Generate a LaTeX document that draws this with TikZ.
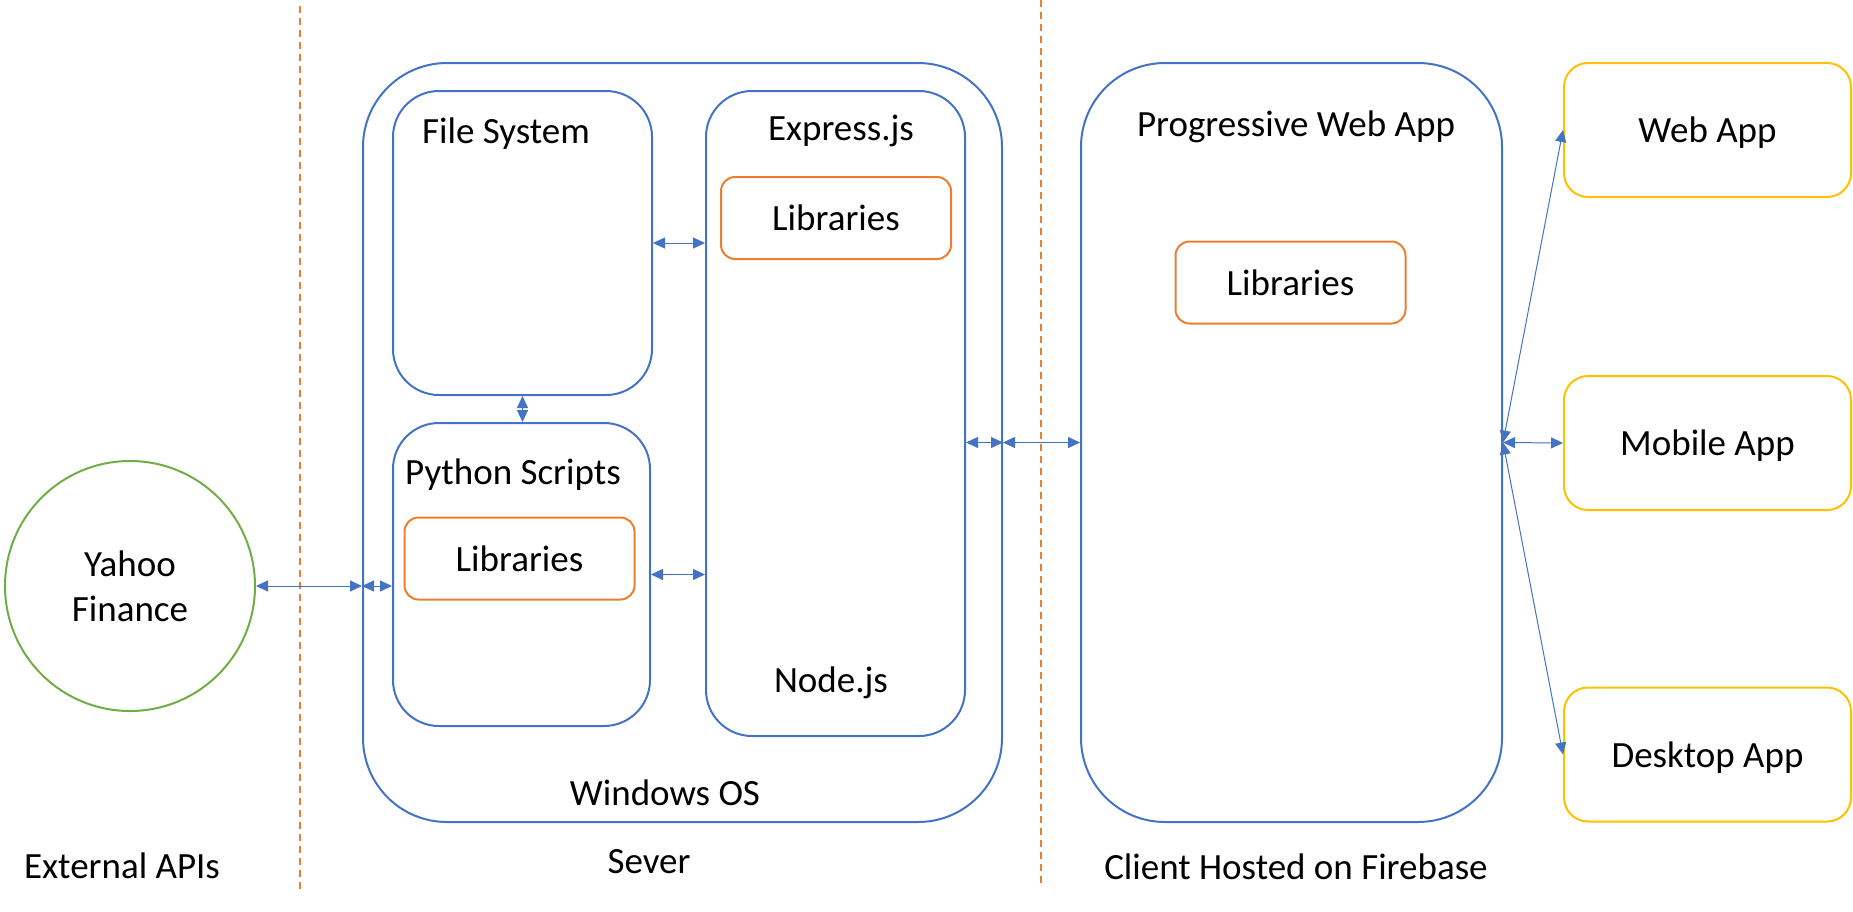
\documentclass[tikz,border=0pt]{standalone}
\usepackage{fontspec}
\setmainfont{Carlito}
\usepackage{xcolor}
\usetikzlibrary{arrows.meta}
\definecolor{frameblue}{HTML}{4472C4}
\definecolor{liborange}{HTML}{ED7D31}
\definecolor{appgold}{HTML}{FFC000}
\definecolor{apigreen}{HTML}{70AD47}

\begin{document}
\begin{tikzpicture}[x=0.5pt, y=-0.5pt,
  every node/.style={font=\fontsize{18.5}{22.5}\selectfont},
  frame/.style={draw=frameblue, line width=1pt, rounded corners=#1, inner sep=0pt},
  libbox/.style={draw=liborange, line width=1pt, rounded corners=7pt, minimum width=115pt, minimum height=41pt},
  appbox/.style={draw=appgold, line width=1pt, rounded corners=12pt, text depth=0pt, minimum width=143.5pt, minimum height=67pt},
  link/.style={draw=frameblue, line width=0.5pt, {Triangle[length=6pt,width=5.5pt]}-{Triangle[length=6pt,width=5.5pt]}},
  zone/.style={draw=liborange, line width=1pt, dash pattern=on 3.5pt off 2.5pt}]
\useasboundingbox (0,0) rectangle (1853,911);
%%%%% Zones %%%%%
\draw[zone] (300,6) -- (300,889);
\draw[zone] (1041,0) -- (1041,885);
\node (apitext) at (122,866) {External APIs};
\node (servertext) at (649,862) {Sever};
\node (clienttext) at (1296,867) {Client Hosted on Firebase};
%%%%% External API %%%%%
\node[circle, draw=apigreen, line width=1pt, minimum size=125pt, align=center] (yahoo) at (130,586) {Yahoo\\Finance};
%%%%% Server %%%%%
\node[frame=42pt, minimum width=319.5pt, minimum height=379.5pt] (win) at (682.5,442.5) {};
\node (wintext) at (665,793) {Windows OS};
\node[frame=23pt, minimum width=129.5pt, minimum height=152pt] (fs) at (522.5,243) {};
\node (fstext) at (506,134) {File System};
\node[frame=23pt, minimum width=129.5pt, minimum height=322.5pt] (nodejs) at (835.5,413.5) {};
\node (exptext) at (841,131) {Express.js};
\node (nodetext) at (831,683) {Node.js};
\node[libbox] (libexp) at (836,218) {Libraries};
\node[frame=23pt, minimum width=128.5pt, minimum height=151.5pt] (py) at (521.5,574.5) {};
\node (pytext) at (513,475) {Python Scripts};
\node[libbox] (libpy) at (519.5,558.5) {Libraries};
%%%%% Client %%%%%
\node[frame=42pt, minimum width=210.5pt, minimum height=379.5pt] (pwa) at (1291.5,442.5) {};
\node (pwatext) at (1296,127) {Progressive Web App};
\node[libbox] (libpwa) at (1290.5,282.5) {Libraries};
\node[appbox] (web) at (1707.5,130) {Web App};
\node[appbox] (mobile) at (1707.5,443) {Mobile App};
\node[appbox] (desktop) at (1707.5,754.5) {Desktop App};
%%%%% Links %%%%%
\draw[link] (yahoo.east) -- (yahoo.east -| win.west);
\draw[link] (yahoo.east -| win.west) -- (yahoo.east -| py.west);
\draw[link] (fs.east) -- (fs.east -| nodejs.west);
\draw[link] (py.east) -- (py.east -| nodejs.west);
\draw[link] (fs.south) -- (fs.south |- py.north);
\draw[link] (win.east -| nodejs.east) -- (win.east);
\draw[link] (win.east) -- (pwa.west);
\draw[link] (pwa.east) -- (web.west);
\draw[link] (pwa.east) -- (mobile.west);
\draw[link] (pwa.east) -- (desktop.west);
\end{tikzpicture}
\end{document}
